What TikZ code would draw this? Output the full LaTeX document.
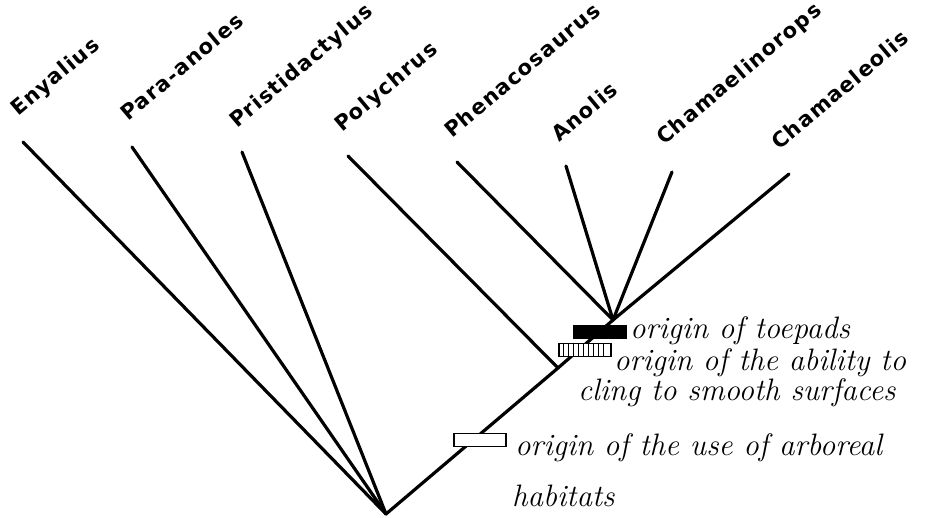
\documentclass[tikz,border=0pt]{standalone}
\usepackage{fontspec}
\newfontfamily\taxonfont[LetterSpace=6]{DejaVu Sans}
\begin{document}
\begin{tikzpicture}[x=1pt, y=-1pt,
        branch/.style={line width=3.2pt, line cap=round},
        taxon/.style={rotate=40, anchor=base west, inner sep=0pt, font=\taxonfont\bfseries\fontsize{21}{21}\selectfont},
        trait/.style={draw, line width=1.4pt, minimum width=52pt, minimum height=13pt, inner sep=0pt},
        note/.style={anchor=base west, inner sep=0pt, font=\fontsize{31}{31}\selectfont\itshape\addfontfeatures{LetterSpace=5}}
    ]
        \useasboundingbox (0,0) rectangle (940,517);

        % Taxon labels
        \node[taxon] (enyalius) at (18,117) {Enyalius};
        \node[taxon] (paraanoles) at (128,122) {Para-anoles};
        \node[taxon] (pristidactylus) at (237,129) {Pristidactylus};
        \node[taxon] (polychrus) at (342,133) {Polychrus};
        \node[taxon] (phenacosaurus) at (452,139) {Phenacosaurus};
        \node[taxon] (anolis) at (559,143) {Anolis};
        \node[taxon] (chamaelinorops) at (664,146) {Chamaelinorops};
        \node[taxon] (chamaeleolis) at (779,151) {Chamaeleolis};

        % Branch tips and internal nodes
        \coordinate (enyalius-tip) at (23,142);
        \coordinate (paraanoles-tip) at (132,147);
        \coordinate (pristidactylus-tip) at (242,152);
        \coordinate (polychrus-tip) at (348,156);
        \coordinate (phenacosaurus-tip) at (457,162);
        \coordinate (anolis-tip) at (566,166);
        \coordinate (chamaelinorops-tip) at (672,172);
        \coordinate (chamaeleolis-tip) at (789,174);
        \coordinate (root) at (386,514);
        \coordinate (split) at (558,368);
        \coordinate (crown) at (613,320);

        % Branches
        \draw[branch] (enyalius-tip) -- (root);
        \draw[branch] (paraanoles-tip) -- (root);
        \draw[branch] (pristidactylus-tip) -- (root);
        \draw[branch] (root) -- (split) -- (crown);
        \draw[branch] (polychrus-tip) -- (split);
        \draw[branch] (phenacosaurus-tip) -- (crown);
        \draw[branch] (anolis-tip) -- (crown);
        \draw[branch] (chamaelinorops-tip) -- (crown);
        \draw[branch] (chamaeleolis-tip) -- (crown);

        % Character bars
        \node[trait, fill=black] (toepads) at (600,332) {};
        \node[trait, fill=white] (cling) at (585,350) {};
        \foreach \s in {5,10,...,45}
            \draw[line width=1.2pt] ([xshift=\s pt]cling.north west) -- ([xshift=\s pt]cling.south west);
        \node[trait, fill=white] (arboreal) at (480,440) {};

        % Handwritten notes
        \node[note] (toepads-note) at (630,338) {origin of toepads};
        \node[note] (cling-note) at (614,370) {origin of the ability to};
        \node[note] (cling-note2) at (578,400) {cling to smooth surfaces};
        \node[note] (arboreal-note) at (515,455) {origin of the use of arboreal};
        \node[note] (arboreal-note2) at (512,506) {habitats};
    \end{tikzpicture}
\end{document}
